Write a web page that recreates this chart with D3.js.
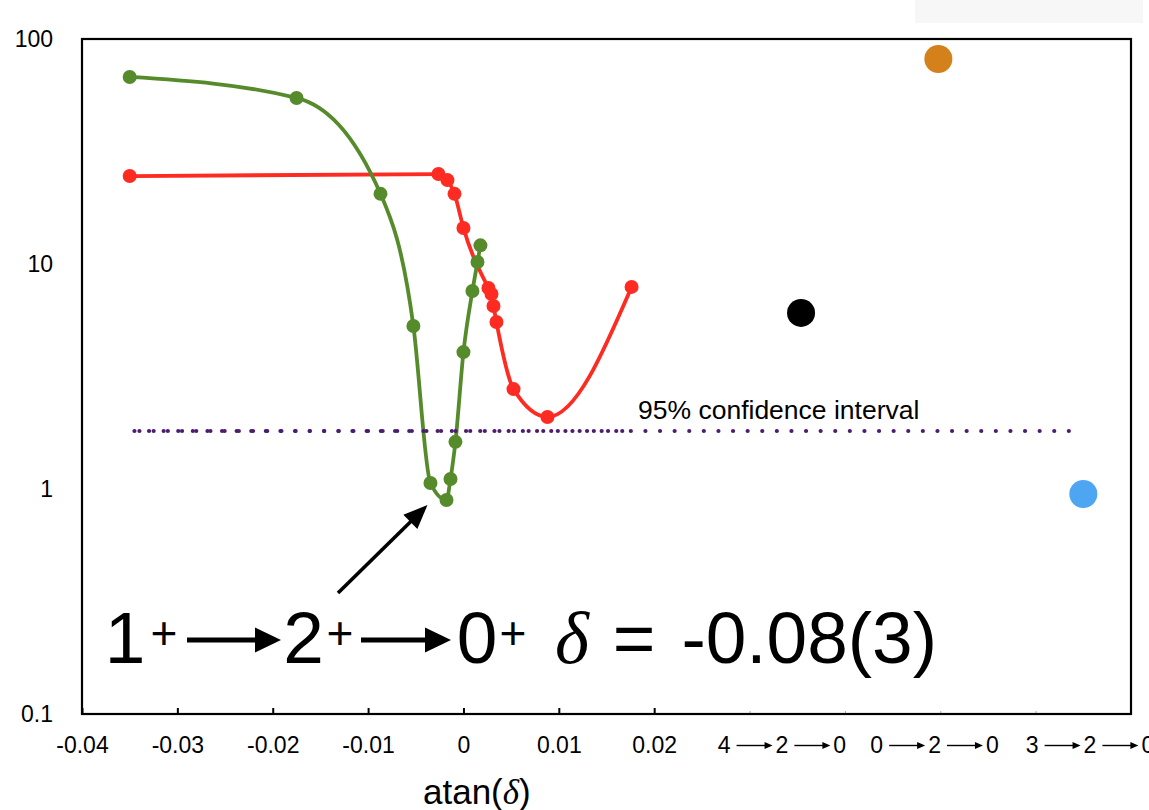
<!DOCTYPE html>
<html>
<head>
<meta charset="utf-8">
<script src="https://cdn.jsdelivr.net/npm/d3@7"></script>
<style>
  html, body { margin: 0; padding: 0; background: #fff; }
  svg { display: block; font-family: "Liberation Sans", Arial, Helvetica, sans-serif; }
</style>
</head>
<body>
<svg id="chart" width="1149" height="810"></svg>
<script>
// chi-square versus atan(delta) for the 1+ -> 2+ -> 0+ cascade (two fits)
const greenX = [-0.035, -0.0175, -0.0087, -0.00525, -0.00346, -0.00178, -0.00136, -0.00084, 0.0, 0.00094, 0.00147, 0.00178];
const greenY = [67.8, 54.7, 20.5, 5.30, 1.063, 0.893, 1.108, 1.62, 4.06, 7.59, 10.2, 12.1];
const redX = [-0.035, -0.00262, -0.00168, -0.00094, 0.0, 0.00262, 0.00294, 0.00315, 0.00346, 0.00525, 0.00881, 0.01763];
const redY = [24.6, 25.1, 23.6, 20.5, 14.45, 7.82, 7.36, 6.51, 5.52, 2.78, 2.09, 7.91];

// alternative spin sequences, one value each
const cascades = [["4", "2", "0"], ["0", "2", "0"], ["3", "2", "0"]];
const cascadeX = [0.0354, 0.0498, 0.0650];
const cascadeY = [6.06, 81.5, 0.95];
const cascadeColors = ["#000000", "#d4801b", "#4ea6f3"];
const cascadeLabelX = [0.0334, 0.0494, 0.0657];

// 95% confidence level
const ciLevel = 1.81;
const ciRange = [-0.0345, 0.0639];
const ciDenseRange = [-0.0345, 0.0175];

// axes
const xTicks = [-0.04, -0.03, -0.02, -0.01, 0, 0.01, 0.02];
const xTickLabels = ["-0.04", "-0.03", "-0.02", "-0.01", "0", "0.01", "0.02"];
const xMinorTicks = [0.03, 0.04, 0.05, 0.06];
const yTicks = [0.1, 1, 10, 100];
const yTickLabels = ["0.1", "1", "10", "100"];

const svg = d3.select("#chart");
const plotL = 82, plotR = 1131, plotT = 39, plotB = 714;
const x = d3.scaleLinear().domain([-0.04, 0.07]).range([plotL, plotR]);
const y = d3.scaleLog().domain([0.1, 100]).range([plotB, plotT]);

// faint header strip
svg.append("rect").attr("x", 915).attr("y", 0).attr("width", 228).attr("height", 23)
  .attr("fill", "#f7f7f7");

// x axis
const xAxis = svg.append("g").attr("transform", `translate(0,${plotB})`)
  .call(d3.axisBottom(x).tickValues(xTicks).tickSize(-6).tickPadding(23)
    .tickFormat((d, i) => xTickLabels[i]));
xAxis.select(".domain").remove();
xAxis.selectAll(".tick line").attr("stroke", "#000").attr("stroke-width", 2);
xAxis.selectAll(".tick text").attr("font-size", 23).attr("fill", "#000")
  .attr("font-family", "Liberation Sans, Arial, sans-serif");

const xMinor = svg.append("g").attr("transform", `translate(0,${plotB})`)
  .call(d3.axisBottom(x).tickValues(xMinorTicks).tickSize(-3).tickFormat(""));
xMinor.select(".domain").remove();
xMinor.selectAll(".tick line").attr("stroke", "#aaa").attr("stroke-width", 1);

// y axis
const yAxis = svg.append("g").attr("transform", `translate(${plotL},0)`)
  .call(d3.axisLeft(y).tickValues(yTicks).tickSize(0).tickPadding(29)
    .tickFormat((d, i) => yTickLabels[i]));
yAxis.select(".domain").remove();
yAxis.selectAll(".tick text").attr("font-size", 23).attr("fill", "#000")
  .attr("font-family", "Liberation Sans, Arial, sans-serif");

// frame
svg.append("rect").attr("x", plotL).attr("y", plotT)
  .attr("width", plotR - plotL).attr("height", plotB - plotT)
  .attr("fill", "none").attr("stroke", "#000").attr("stroke-width", 2.2);

// fit curves
const line = d3.line().x(d => x(d[0])).y(d => y(d[1]))
  .curve(d3.curveMonotoneX);
const green = greenX.map((v, i) => [v, greenY[i]]);
const red = redX.map((v, i) => [v, redY[i]]);
const greenColor = "#568b2b", redColor = "#fd2b22";

svg.append("path").datum(red).attr("d", line)
  .attr("fill", "none").attr("stroke", redColor).attr("stroke-width", 3.8);
svg.append("path").datum(green).attr("d", line)
  .attr("fill", "none").attr("stroke", greenColor).attr("stroke-width", 3.8);

// confidence level, drawn as dotted lines
const ciColor = "#4b1c6f";
svg.append("line")
  .attr("x1", x(ciRange[0])).attr("x2", x(ciRange[1]))
  .attr("y1", y(ciLevel)).attr("y2", y(ciLevel))
  .attr("stroke", ciColor).attr("stroke-width", 4.2)
  .attr("stroke-linecap", "round").attr("stroke-dasharray", "0 14.6");
svg.append("line")
  .attr("x1", x(ciDenseRange[0]) + 5).attr("x2", x(ciDenseRange[1]))
  .attr("y1", y(ciLevel)).attr("y2", y(ciLevel))
  .attr("stroke", ciColor).attr("stroke-width", 4.2)
  .attr("stroke-linecap", "round").attr("stroke-dasharray", "0 14.2");
svg.append("text").attr("x", 638).attr("y", y(ciLevel) - 12)
  .attr("font-size", 26.5).attr("fill", "#000").text("95% confidence interval");

// markers
svg.append("g").selectAll("circle").data(red).join("circle")
  .attr("cx", d => x(d[0])).attr("cy", d => y(d[1])).attr("r", 7).attr("fill", redColor);
svg.append("g").selectAll("circle").data(green).join("circle")
  .attr("cx", d => x(d[0])).attr("cy", d => y(d[1])).attr("r", 7).attr("fill", greenColor);

// single-value sequences
svg.append("g").selectAll("circle").data(cascadeX).join("circle")
  .attr("cx", d => x(d)).attr("cy", (d, i) => y(cascadeY[i])).attr("r", 14)
  .attr("fill", (d, i) => cascadeColors[i]);

// arrow helper: shaft plus filled triangular head
function arrow(g, x1, y1, x2, y2, width, headLen, headHalf) {
  const dx = x2 - x1, dy = y2 - y1, len = Math.hypot(dx, dy);
  const ux = dx / len, uy = dy / len;
  const bx = x2 - ux * headLen, by = y2 - uy * headLen;
  g.append("line").attr("x1", x1).attr("y1", y1).attr("x2", bx + ux * 1).attr("y2", by + uy * 1)
    .attr("stroke", "#000").attr("stroke-width", width);
  g.append("path")
    .attr("d", `M${x2},${y2}L${bx - uy * headHalf},${by + ux * headHalf}L${bx + uy * headHalf},${by - ux * headHalf}Z`)
    .attr("fill", "#000");
}

// sequence labels under the single-value points
const labelBase = 753, arrowY = 745.5;
cascades.forEach((seq, i) => {
  const g = svg.append("g");
  const digitW = 12.8, gapB = 6, arrowLen = 36, gapA = 3;
  const total = seq.length * digitW + (seq.length - 1) * (gapB + arrowLen + gapA);
  let cx = x(cascadeLabelX[i]) - total / 2;
  seq.forEach((s, j) => {
    g.append("text").attr("x", cx).attr("y", labelBase).attr("font-size", 23)
      .attr("fill", "#000").text(s);
    cx += digitW;
    if (j < seq.length - 1) {
      arrow(g, cx + gapB, arrowY, cx + gapB + arrowLen, arrowY, 1.4, 8, 3.5);
      cx += gapB + arrowLen + gapA;
    }
  });
});

// x axis title
const xt = svg.append("text").attr("x", 423).attr("y", 804).attr("font-size", 35).attr("fill", "#000");
xt.append("tspan").text("atan(");
xt.append("tspan").attr("font-family", "Liberation Serif, Times New Roman, serif")
  .attr("font-style", "italic").text("δ");
xt.append("tspan").text(")");

// cascade annotation
const ann = svg.append("g");
const bigBase = 663, plusBase = 649, bigArrowY = 640;
function big(txt, cx, yy, size, anchor, serif) {
  const t = ann.append("text").attr("x", cx).attr("y", yy).attr("font-size", size)
    .attr("text-anchor", anchor || "middle").attr("fill", "#000").text(txt);
  if (serif) t.attr("font-family", "Liberation Serif, Times New Roman, serif").attr("font-style", "italic");
  return t;
}
big("1", 125, bigBase, 73);
big("+", 164, plusBase, 46);
arrow(ann, 187, bigArrowY, 281, bigArrowY, 5, 26, 12.5);
big("2", 303.5, bigBase, 73);
big("+", 340, plusBase, 46);
arrow(ann, 361, bigArrowY, 451, bigArrowY, 5, 26, 12.5);
big("0", 477, bigBase, 73);
big("+", 513, plusBase, 46);
big("δ", 572, bigBase, 73, "middle", true);
big("=", 634, bigBase, 73);
big("-0.08(3)", 937, bigBase, 73, "end");

// pointer to the green minimum
const gi = greenY.indexOf(d3.min(greenY));
const tipX = x(greenX[gi]) - 19, tipY = y(greenY[gi]) + 5;
arrow(ann, 338, 593, tipX, tipY, 3.6, 24, 10);
</script>
</body>
</html>
